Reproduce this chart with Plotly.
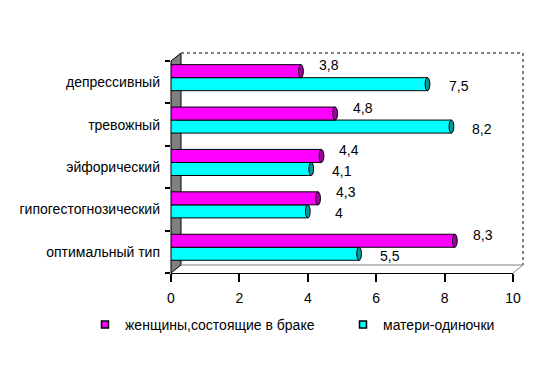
import plotly.graph_objects as go

categories = ["оптимальный тип", "гипогестогнозический", "эйфорический", "тревожный", "депрессивный"]
married = [8.3, 4.3, 4.4, 4.8, 3.8]
single = [5.5, 4.0, 4.1, 8.2, 7.5]
x_ticks = [0, 2, 4, 6, 8, 10]
name_married = "женщины,состоящие в браке"
name_single = "матери-одиночки"

W, H = 550, 371
L, R, T, B = 171, 37, 61, 98
FONT = "Liberation Sans, Arial, sans-serif"

MAG, MAG_DARK = "#FF00FF", "#A000A0"
CYN, CYN_DARK = "#00FFFF", "#009A9A"

bar_w = 0.307
off_single = -0.20
off_married = 0.107


def fmt(v):
    s = ("%g" % v)
    return s.replace(".", ",")


def px(xp):
    return (xp - L) / (W - L - R)


def py(yp):
    return (H - B - yp) / (H - T - B)


idx = list(range(len(categories)))

fig = go.Figure()
fig.add_trace(go.Bar(
    y=idx, x=single, orientation="h", name=name_single,
    marker=dict(color=CYN, line=dict(color="#000000", width=1)),
    offset=off_single, width=bar_w, showlegend=False, hoverinfo="x"))
fig.add_trace(go.Bar(
    y=idx, x=married, orientation="h", name=name_married,
    marker=dict(color=MAG, line=dict(color="#000000", width=1)),
    offset=off_married, width=bar_w, showlegend=False, hoverinfo="x"))

# legend entries (two separate legends to place them like the original)
fig.add_trace(go.Scatter(x=[None], y=[None], mode="markers", name=name_married, legend="legend",
                         marker=dict(symbol="square", size=7, color=MAG,
                                     line=dict(color="#000000", width=1.5))))
fig.add_trace(go.Scatter(x=[None], y=[None], mode="markers", name=name_single, legend="legend2",
                         marker=dict(symbol="square", size=7, color=CYN,
                                     line=dict(color="#000000", width=1.5))))

shapes = []
# 3D frame: left wall
wall = "M {a},{b} L {a},{c} L {d},{e} L {d},{f} Z".format(
    a=px(171), b=py(273), c=py(61), d=px(181), e=py(53), f=py(265))
shapes.append(dict(type="path", xref="paper", yref="paper", path=wall,
                   fillcolor="#808080", line=dict(color="#000000", width=1), layer="below"))
# back wall dotted border
shapes.append(dict(type="path", xref="paper", yref="paper",
                   path="M {a},{b} L {c},{b} L {c},{d}".format(a=px(181), b=py(53), c=px(523), d=py(265)),
                   line=dict(color="#808080", width=2, dash="dot"), layer="below"))
# floor back line and right diagonal
shapes.append(dict(type="path", xref="paper", yref="paper",
                   path="M {a},{b} L {c},{b} L {d},{e}".format(a=px(181), b=py(265), c=px(523), d=px(513), e=py(273)),
                   line=dict(color="#808080", width=1), layer="below"))

# cylinder end caps
for vals, off, col in ((single, off_single, CYN_DARK), (married, off_married, MAG_DARK)):
    for i, v in zip(idx, vals):
        shapes.append(dict(type="circle", xref="x", yref="y",
                           x0=v - 0.07, x1=v + 0.07, y0=i + off, y1=i + off + bar_w,
                           fillcolor=col, line=dict(color="#000000", width=1), layer="above"))

annotations = []
for vals, off, xs, ys in ((single, off_single, 31, -2), (married, off_married, 28, 6)):
    for i, v in zip(idx, vals):
        annotations.append(dict(x=v, y=i + off + bar_w / 2, xref="x", yref="y",
                                text=fmt(v), showarrow=False, xanchor="center", yanchor="middle",
                                xshift=xs, yshift=ys,
                                font=dict(family=FONT, size=14, color="#000000")))

legend_common = dict(orientation="h", yanchor="middle", xanchor="left",
                     font=dict(family=FONT, size=14, color="#000000"),
                     itemwidth=30, bgcolor="rgba(0,0,0,0)")

fig.update_layout(
    width=W, height=H, autosize=False,
    margin=dict(l=L, r=R, t=T, b=B, pad=0),
    paper_bgcolor="#FFFFFF", plot_bgcolor="rgba(0,0,0,0)",
    font=dict(family=FONT, size=14, color="#000000"),
    shapes=shapes, annotations=annotations,
    showlegend=True,
    legend=dict(x=px(85), y=py(325), **legend_common),
    legend2=dict(x=px(343), y=py(325), **legend_common),
    xaxis=dict(range=[0, 10], tickvals=x_ticks, ticktext=[str(t) for t in x_ticks],
               showgrid=False, zeroline=False, showline=True, linecolor="#000000", linewidth=1,
               ticks="outside", ticklen=8, tickwidth=2, tickcolor="#000000", automargin=False,
               ticklabelstandoff=4, tickfont=dict(family=FONT, size=14)),
    yaxis=dict(range=[-0.5, len(categories) - 0.5], tickvals=idx, ticktext=categories,
               showgrid=False, zeroline=False, showline=False, automargin=False,
               ticks="", ticklabelstandoff=10, tickfont=dict(family=FONT, size=14),
               minor=dict(tickvals=[i - 0.5 for i in idx] + [len(categories) - 0.5],
                          ticks="outside", ticklen=5, tickwidth=2, tickcolor="#000000")),
)

fig.write_html("out.html", config={"displayModeBar": False},
               post_script="document.body.style.margin='0';")
